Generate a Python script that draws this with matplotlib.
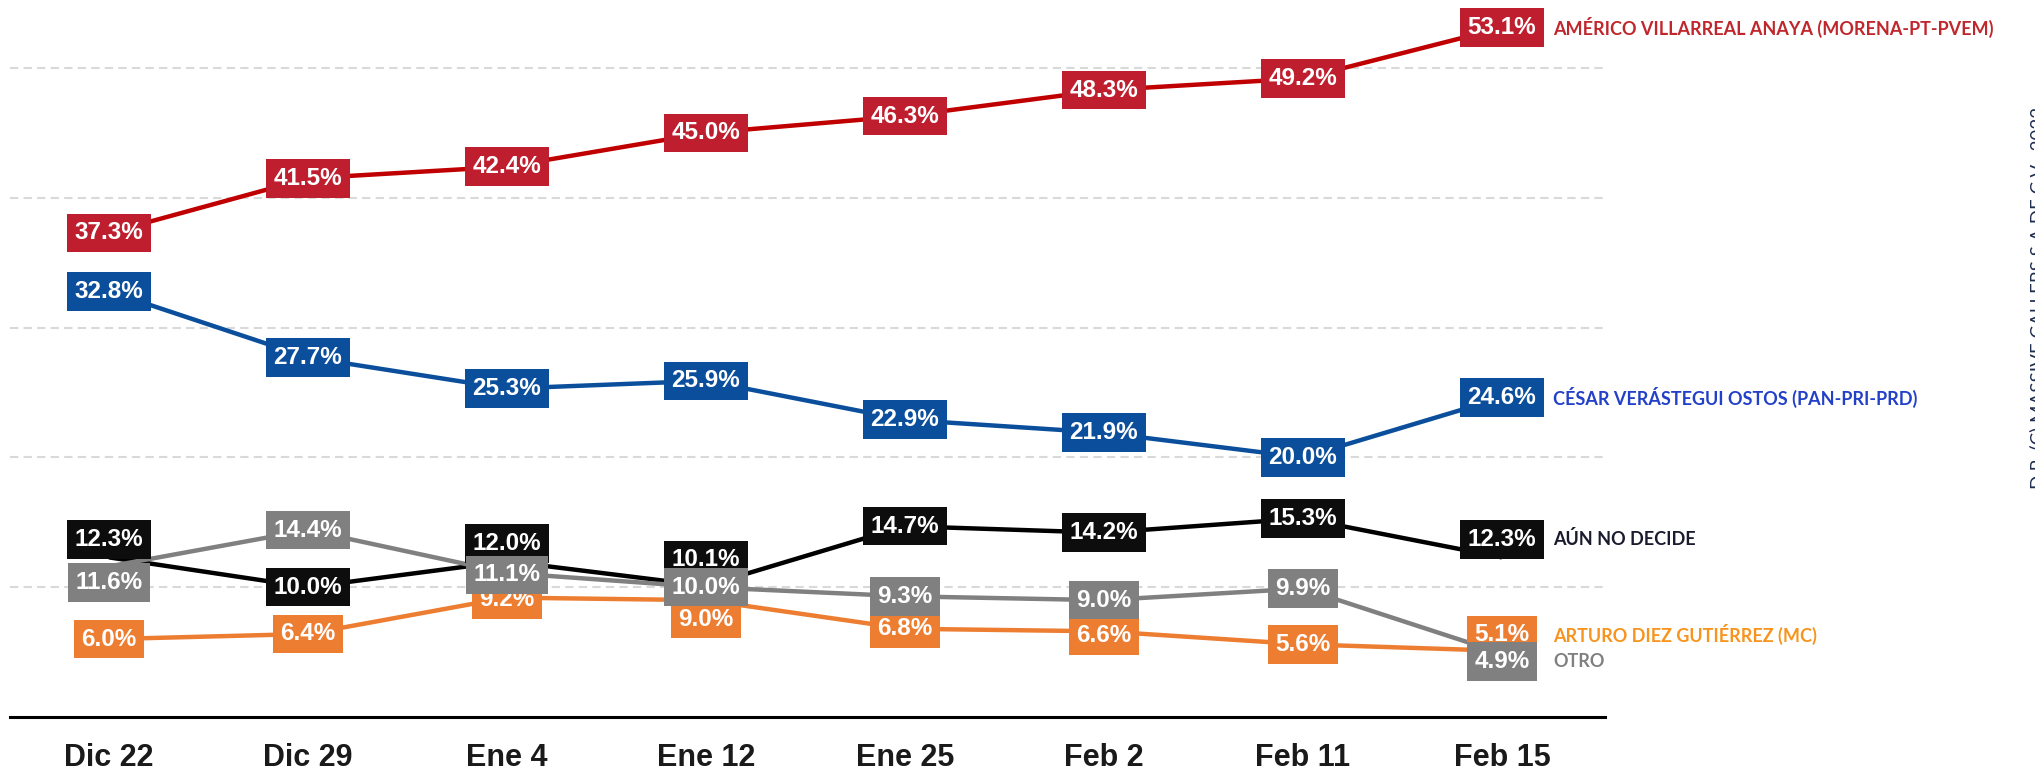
import matplotlib
matplotlib.use('Agg')
import matplotlib.pyplot as plt

fechas = ['Dic 22', 'Dic 29', 'Ene 4', 'Ene 12', 'Ene 25', 'Feb 2', 'Feb 11', 'Feb 15']

americo = [37.3, 41.5, 42.4, 45.0, 46.3, 48.3, 49.2, 53.1]
cesar = [32.8, 27.7, 25.3, 25.9, 22.9, 21.9, 20.0, 24.6]
no_decide = [12.3, 10.0, 12.0, 10.1, 14.7, 14.2, 15.3, 12.3]
arturo = [6.0, 6.4, 9.2, 9.0, 6.8, 6.6, 5.6, 5.1]
otro = [11.6, 14.4, 11.1, 10.0, 9.3, 9.0, 9.9, 4.9]

nombres = ['AMÉRICO VILLARREAL ANAYA (MORENA-PT-PVEM)',
           'CÉSAR VERÁSTEGUI OSTOS (PAN-PRI-PRD)',
           'AÚN NO DECIDE',
           'ARTURO DIEZ GUTIÉRREZ (MC)',
           'OTRO']

# (values, line colour, box colour, name colour, zorder of boxes)
series = [
    (americo, '#C00000', '#BE1E2D', '#C0272D', 6),
    (cesar, '#0B4F9C', '#0B4F9C', '#2340C8', 6),
    (no_decide, '#000000', '#0D0D0D', '#1B1B2F', 4),
    (arturo, '#ED7D31', '#ED7D31', '#F7941D', 3),
    (otro, '#808080', '#808080', '#808080', 5),
]

# manual nudges of some labels (pixels), to keep boxes from hiding each other
nudge = {
    (2, 0): 18, (4, 0): -16,
    (2, 2): 18, (4, 2): -2, (3, 2): -2,
    (2, 3): 26, (3, 3): -19,
    (3, 5): -4,
    (2, 7): 18, (3, 7): 16, (4, 7): -8,
}

W, H = 2035, 776
fig = plt.figure(figsize=(W / 100, H / 100), dpi=100)
ax = fig.add_axes([10 / W, 1 - 717 / H, 1595 / W, 717 / H])

x = list(range(len(fechas)))
for k, (vals, lc, bc, nc, z) in enumerate(series):
    ax.plot(x, vals, color=lc, lw=3.2, zorder=2, solid_capstyle='butt')
    for i, v in enumerate(vals):
        ax.annotate(f'{v:.1f}%', (i, v), xytext=(0, nudge.get((k, i), 0)),
                    textcoords='offset pixels', ha='center', va='center',
                    color='white', fontsize=17.5, fontweight='bold',
                    family='Liberation Sans', zorder=z,
                    bbox=dict(boxstyle='square,pad=0.32', fc=bc, ec='none'))
    ax.annotate(nombres[k], (7, vals[-1]), xytext=(51, nudge.get((k, 7), 0)),
                textcoords='offset pixels', ha='left', va='center',
                color=nc, fontsize=13, fontweight='bold', family='Lato',
                annotation_clip=False)

ax.set_xlim(-0.497, 7.518)
ax.set_ylim(0, 55.24)
ax.set_yticks([10, 20, 30, 40, 50])
ax.yaxis.grid(True, color='#D9D9D9', lw=1.5, dashes=(4, 2.5))
ax.set_axisbelow(True)
ax.tick_params(axis='y', left=False, labelleft=False)
ax.set_xticks(x)
ax.set_xticklabels(fechas, fontsize=22, fontweight='bold', color='#1A1A1A',
                   family='Liberation Sans')
ax.tick_params(axis='x', length=0, pad=19)
for s in ['top', 'right', 'left']:
    ax.spines[s].set_visible(False)
ax.spines['bottom'].set_linewidth(2.2)
ax.spines['bottom'].set_color('black')

fig.text(2029 / W, 1 - 298 / H, 'D.R. (C) MASSIVE CALLERS S.A DE C.V., 2022',
         rotation=90, ha='left', va='center', fontsize=13.5, color='#1F2D50',
         family='Lato')

fig.savefig('out.png', dpi=100)
